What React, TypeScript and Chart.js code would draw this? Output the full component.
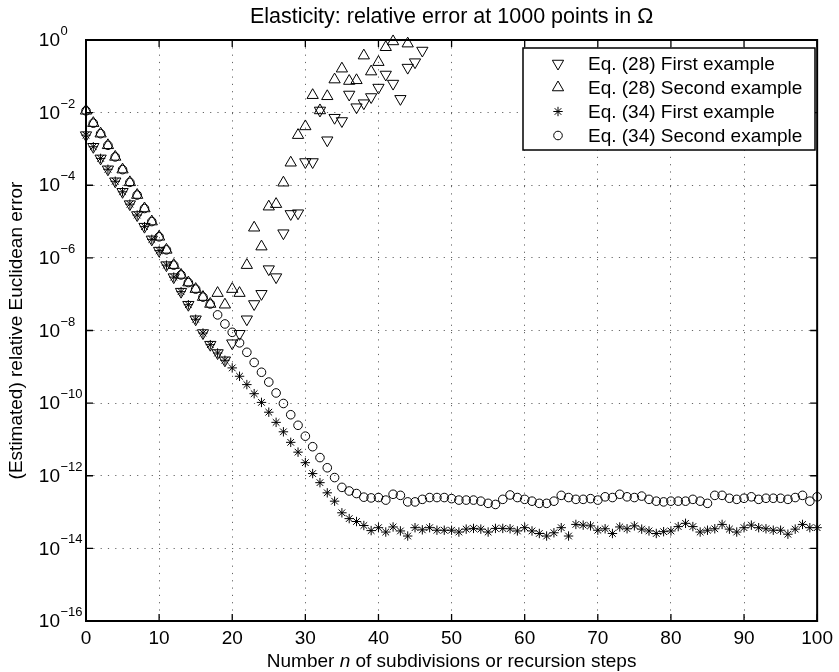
import React, { useEffect, useRef } from 'react';
import { Chart, registerables } from 'chart.js';

Chart.register(...registerables);

// ---------- data (log10 of the relative error, index = n) ----------
const eq28FirstExp: (number | null)[] = [
  -2.62, -2.94, -3.26, -3.56, -3.89, -4.18, -4.52, -4.82, -5.14, -5.49,
  -5.80, -6.20, -6.53, -6.93, -7.29, -7.69, -8.07, -8.39, -8.62, -8.82,
  -8.35, -8.09, -7.69, -7.27, -6.99, -6.31, -6.53, -5.32, -4.79, -4.77,
  -3.36, -3.36, -1.94, -2.76, -2.14, -2.23, -1.50, -1.85, -1.74, -1.57,
  -1.31, -0.95, -1.20, -1.62, -0.76, -0.61, -0.29,
];

const eq28SecondExp: (number | null)[] = [
  -1.95, -2.29, -2.58, -2.90, -3.22, -3.57, -3.92, -4.27, -4.64, -5.00,
  -5.42, -5.78, -6.20, -6.47, -6.68, -6.86, -7.08, -7.27, -6.97, -7.29,
  -6.86, -6.97, -6.20, -5.17, -5.69, -4.59, -4.52, -3.93, -3.38, -2.62,
  -2.38, -1.52, -1.94, -1.55, -1.09, -0.79, -1.13, -1.11, -0.43, -0.87,
  -0.61, -0.20, -0.04, null, -0.10,
];

const eq34FirstExp: number[] = [
  -2.62, -2.94, -3.26, -3.56, -3.89, -4.18, -4.52, -4.82, -5.14, -5.49,
  -5.80, -6.20, -6.53, -6.93, -7.29, -7.69, -8.07, -8.39, -8.62, -8.82,
  -9.03, -9.26, -9.49, -9.74, -9.98, -10.25, -10.53, -10.79, -11.08, -11.35,
  -11.64, -11.94, -12.19, -12.47, -12.70, -13.02, -13.18, -13.26, -13.37, -13.51,
  -13.43, -13.55, -13.41, -13.52, -13.66, -13.43, -13.49, -13.43, -13.50, -13.50,
  -13.50, -13.55, -13.47, -13.45, -13.47, -13.55, -13.45, -13.45, -13.46, -13.52,
  -13.43, -13.52, -13.59, -13.66, -13.57, -13.43, -13.66, -13.34, -13.36, -13.38,
  -13.50, -13.46, -13.59, -13.41, -13.46, -13.38, -13.47, -13.52, -13.59, -13.54,
  -13.52, -13.40, -13.31, -13.40, -13.55, -13.50, -13.46, -13.34, -13.47, -13.55,
  -13.43, -13.36, -13.43, -13.46, -13.50, -13.50, -13.61, -13.47, -13.34, -13.43,
  -13.43,
];

const eq34SecondExp: number[] = [
  -1.95, -2.29, -2.58, -2.90, -3.22, -3.57, -3.92, -4.27, -4.64, -5.00,
  -5.42, -5.78, -6.20, -6.47, -6.68, -6.86, -7.08, -7.27, -7.57, -7.82,
  -8.05, -8.34, -8.60, -8.88, -9.15, -9.42, -9.72, -10.01, -10.32, -10.61,
  -10.91, -11.20, -11.50, -11.78, -12.05, -12.32, -12.42, -12.49, -12.59, -12.61,
  -12.60, -12.67, -12.51, -12.54, -12.72, -12.72, -12.65, -12.60, -12.60, -12.60,
  -12.63, -12.67, -12.67, -12.67, -12.70, -12.76, -12.79, -12.65, -12.53, -12.60,
  -12.65, -12.70, -12.76, -12.76, -12.70, -12.54, -12.60, -12.65, -12.65, -12.63,
  -12.67, -12.58, -12.60, -12.51, -12.58, -12.60, -12.56, -12.65, -12.70, -12.72,
  -12.70, -12.70, -12.70, -12.65, -12.70, -12.76, -12.54, -12.54, -12.62, -12.65,
  -12.62, -12.58, -12.65, -12.62, -12.62, -12.62, -12.65, -12.60, -12.54, -12.70,
  -12.58,
];

const seriesLabels = [
  'Eq. (28) First example',
  'Eq. (28) Second example',
  'Eq. (34) First example',
  'Eq. (34) Second example',
];

const xTicks = [0, 10, 20, 30, 40, 50, 60, 70, 80, 90, 100];
const yTickValues = [1, 1e-2, 1e-4, 1e-6, 1e-8, 1e-10, 1e-12, 1e-14, 1e-16];
const yTickExponents = ['0', '\u22122', '\u22124', '\u22126', '\u22128', '\u221210', '\u221212', '\u221214', '\u221216'];

const titleText = 'Elasticity: relative error at 1000 points in \u03A9';
const yTitle = '(Estimated) relative Euclidean error';
const xTitleParts: [string, boolean][] = [
  ['Number ', false],
  ['n', true],
  [' of subdivisions or recursion steps', false],
];

// ---------- layout / style ----------
const W = 839;
const H = 672;
const FONT = '"Liberation Sans", Arial, Helvetica, sans-serif';
const LABEL_PX = 19;
const TITLE_PX = 21.5;
const TRI_R = 6.5;
const STAR_R = 4.7;
const CIRC_R = 4.3;

const toPoints = (arr: (number | null)[]) =>
  arr
    .map((e, i) => (e === null ? null : { x: i, y: Math.pow(10, e) }))
    .filter((p) => p !== null) as { x: number; y: number }[];

type MarkerKind = 'down' | 'up' | 'star' | 'circle';
const markerKinds: MarkerKind[] = ['down', 'up', 'star', 'circle'];

function drawMarker(ctx: CanvasRenderingContext2D, kind: MarkerKind, x: number, y: number) {
  ctx.save();
  ctx.strokeStyle = '#000';
  ctx.lineWidth = 1;
  ctx.beginPath();
  if (kind === 'circle') {
    ctx.arc(x, y, CIRC_R, 0, Math.PI * 2);
  } else if (kind === 'up' || kind === 'down') {
    const r = TRI_R;
    const base = kind === 'up' ? -Math.PI / 2 : Math.PI / 2;
    for (let k = 0; k < 3; k++) {
      const a = base + (k * 2 * Math.PI) / 3;
      const px = x + Math.cos(a) * r;
      const py = y + Math.sin(a) * r;
      if (k === 0) ctx.moveTo(px, py);
      else ctx.lineTo(px, py);
    }
    ctx.closePath();
  } else {
    const r = STAR_R;
    for (let k = 0; k < 4; k++) {
      const a = (k * Math.PI) / 4;
      ctx.moveTo(x - Math.cos(a) * r, y - Math.sin(a) * r);
      ctx.lineTo(x + Math.cos(a) * r, y + Math.sin(a) * r);
    }
  }
  ctx.stroke();
  ctx.restore();
}

const decorPlugin = {
  id: 'decor',
  afterDraw(chart: any) {
    const { ctx, chartArea: a, scales } = chart;
    const xs = scales.x;
    const ys = scales.y;
    ctx.save();

    // frame
    ctx.strokeStyle = '#000';
    ctx.lineWidth = 2;
    ctx.strokeRect(a.left, a.top, a.right - a.left, a.bottom - a.top);

    // inward ticks on all sides
    ctx.lineWidth = 1.3;
    ctx.beginPath();
    const TL = 7;
    for (const v of xTicks) {
      const px = xs.getPixelForValue(v);
      ctx.moveTo(px, a.bottom);
      ctx.lineTo(px, a.bottom - TL);
      ctx.moveTo(px, a.top);
      ctx.lineTo(px, a.top + TL);
    }
    for (const v of yTickValues) {
      const py = ys.getPixelForValue(v);
      ctx.moveTo(a.left, py);
      ctx.lineTo(a.left + TL, py);
      ctx.moveTo(a.right, py);
      ctx.lineTo(a.right - TL, py);
    }
    ctx.stroke();

    // y tick labels: "10" + superscript exponent
    ctx.fillStyle = '#000';
    yTickValues.forEach((v, i) => {
      const py = ys.getPixelForValue(v);
      ctx.font = `${LABEL_PX}px ${FONT}`;
      ctx.textAlign = 'right';
      ctx.textBaseline = 'middle';
      ctx.fillText('10', 60, py + 1);
      ctx.font = `${13}px ${FONT}`;
      ctx.textAlign = 'left';
      ctx.fillText(yTickExponents[i], 60.5, py - 8.5);
    });

    // title
    ctx.font = `${TITLE_PX}px ${FONT}`;
    ctx.textAlign = 'center';
    ctx.textBaseline = 'alphabetic';
    const cx = (a.left + a.right) / 2;
    ctx.fillText(titleText, cx, 23);

    // x axis title with italic n
    let total = 0;
    const widths = xTitleParts.map(([t, it]) => {
      ctx.font = `${it ? 'italic ' : ''}${LABEL_PX}px ${FONT}`;
      const w = ctx.measureText(t).width;
      total += w;
      return w;
    });
    let sx = cx - total / 2;
    ctx.textAlign = 'left';
    ctx.textBaseline = 'middle';
    xTitleParts.forEach(([t, it], i) => {
      ctx.font = `${it ? 'italic ' : ''}${LABEL_PX}px ${FONT}`;
      ctx.fillText(t, sx, 662);
      sx += widths[i];
    });

    // y axis title
    ctx.save();
    ctx.translate(17, (a.top + a.bottom) / 2);
    ctx.rotate(-Math.PI / 2);
    ctx.font = `${LABEL_PX}px ${FONT}`;
    ctx.textAlign = 'center';
    ctx.textBaseline = 'middle';
    ctx.fillText(yTitle, 0, 0);
    ctx.restore();

    // legend
    const lx = 523, ly = 48, lw = 292, lh = 102;
    ctx.fillStyle = '#fff';
    ctx.fillRect(lx, ly, lw, lh);
    ctx.strokeStyle = '#000';
    ctx.lineWidth = 1.5;
    ctx.strokeRect(lx, ly, lw, lh);
    ctx.fillStyle = '#000';
    ctx.font = `${LABEL_PX}px ${FONT}`;
    ctx.textAlign = 'left';
    ctx.textBaseline = 'middle';
    seriesLabels.forEach((lab, i) => {
      const yy = 63.5 + i * 24;
      drawMarker(ctx, markerKinds[i], 558, yy);
      ctx.fillText(lab, 588, yy + 1);
    });

    ctx.restore();
  },
};

export default function App() {
  const ref = useRef<HTMLCanvasElement | null>(null);

  useEffect(() => {
    document.body.style.margin = '0';
    const canvas = ref.current;
    if (!canvas) return;

    const common = {
      showLine: false,
      pointBorderColor: '#000',
      pointBackgroundColor: 'rgba(0,0,0,0)',
      pointBorderWidth: 1,
      clip: false as const,
    };

    const chart = new Chart(canvas, {
      type: 'scatter',
      data: {
        datasets: [
          {
            ...common,
            label: seriesLabels[0],
            data: toPoints(eq28FirstExp),
            pointStyle: 'triangle',
            rotation: 180,
            pointRadius: TRI_R,
          },
          {
            ...common,
            label: seriesLabels[1],
            data: toPoints(eq28SecondExp),
            pointStyle: 'triangle',
            pointRadius: TRI_R,
          },
          {
            ...common,
            label: seriesLabels[2],
            data: toPoints(eq34FirstExp),
            pointStyle: 'star',
            pointRadius: STAR_R,
          },
          {
            ...common,
            label: seriesLabels[3],
            data: toPoints(eq34SecondExp),
            pointStyle: 'circle',
            pointRadius: CIRC_R,
          },
        ] as any,
      },
      options: {
        animation: false,
        responsive: false,
        events: [],
        layout: { padding: { top: 40, right: 18, left: 0, bottom: 0 } },
        plugins: {
          legend: { display: false },
          title: { display: false },
          tooltip: { enabled: false },
        },
        scales: {
          x: {
            type: 'linear',
            min: 0,
            max: 100,
            afterFit: (s: any) => {
              s.height = 51;
            },
            afterBuildTicks: (s: any) => {
              s.ticks = xTicks.map((v) => ({ value: v }));
            },
            ticks: {
              autoSkip: false,
              maxRotation: 0,
              padding: 6,
              color: '#000',
              font: { family: FONT, size: LABEL_PX },
            },
            grid: {
              drawTicks: false,
              color: 'rgba(0,0,0,0.6)',
              lineWidth: 1,
            },
            border: { display: false, dash: [1.2, 6.1] },
          },
          y: {
            type: 'logarithmic',
            min: 1e-16,
            max: 1,
            afterFit: (s: any) => {
              s.width = 86;
            },
            afterBuildTicks: (s: any) => {
              s.ticks = yTickValues.map((v) => ({ value: v }));
            },
            ticks: { display: false },
            grid: {
              drawTicks: false,
              color: 'rgba(0,0,0,0.6)',
              lineWidth: 1,
            },
            border: { display: false, dash: [1.2, 6.1] },
          },
        },
      } as any,
      plugins: [decorPlugin],
    });

    return () => chart.destroy();
  }, []);

  return (
    <div style={{ width: W, height: H, background: '#fff' }}>
      <canvas ref={ref} width={W} height={H} style={{ display: 'block' }} />
    </div>
  );
}
